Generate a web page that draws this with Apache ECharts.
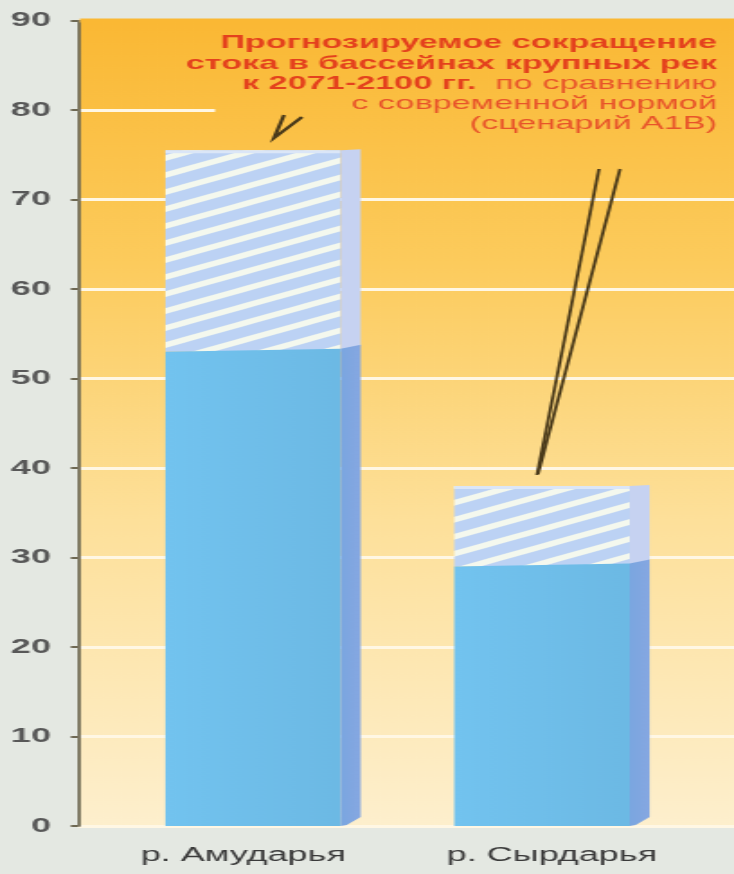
<!DOCTYPE html>
<html>
<head>
<meta charset="utf-8">
<script src="https://cdn.jsdelivr.net/npm/echarts@6/dist/echarts.min.js"></script>
<style>
html,body{margin:0;padding:0;background:#e4e8e2;overflow:hidden}
#wrap{width:734px;height:874px;overflow:hidden;position:relative}
#chart{width:408px;height:874px;transform:scaleX(1.799);transform-origin:0 0}
</style>
</head>
<body>
<div id="wrap"><div id="chart"></div></div>
<script>
// ---- data ----
const categories = ['р. Амударья', 'р. Сырдарья'];
const projectedFlow = [53, 29];      // solid part (after reduction)
const currentFlow = [75.5, 38];      // full height (current norm)
const yMin = 0, yMax = 90, yStep = 10;
const noteLines = [
  [['b', 'Прогнозируемое сокращение']],
  [['b', 'стока в бассейнах крупных рек']],
  [['b', 'к 2071-2100 гг.'], ['n', '  по сравнению']],
  [['n', 'с современной нормой']],
  [['n', '(сценарий А1В)']]
];

// ---- layout helpers (picture is horizontally stretched) ----
const S = 1.799;
const X = v => v / S;

const plotFill = {
  type: 'linear', x: 0, y: 20.5, x2: 0, y2: 826, global: true,
  colorStops: [
    {offset: 0, color: '#fab834'},
    {offset: 0.3, color: '#fccb5c'},
    {offset: 0.62, color: '#fde09a'},
    {offset: 1, color: '#fdefcd'}
  ]
};

function makeHatch() {
  const T = 17, m = 0.5, W = Math.round(T / m);
  const cv = document.createElement('canvas');
  cv.width = W; cv.height = T;
  const ctx = cv.getContext('2d');
  ctx.fillStyle = '#bcd2f4';
  ctx.fillRect(0, 0, W, T);
  ctx.strokeStyle = '#f4f8ee';
  ctx.lineWidth = 5.2;
  for (let k = -1; k <= 2; k++) {
    ctx.beginPath();
    ctx.moveTo(-2, k * T + 1);
    ctx.lineTo(W + 2, (k - 1) * T - 1);
    ctx.stroke();
  }
  return cv;
}
const hatch = {type: 'pattern', image: makeHatch(), repeat: 'repeat'};

const chart = echarts.init(document.getElementById('chart'));

const richNote = {
  b: {fontFamily: 'Liberation Sans, Arial, sans-serif', fontSize: 19, fontWeight: 'bold', fill: '#e4411d', lineHeight: 20.3},
  n: {fontFamily: 'Liberation Sans, Arial, sans-serif', fontSize: 19, fontWeight: 'normal', fill: '#e8542a', lineHeight: 20.3}
};
const noteText = noteLines.map(l => l.map(([k, t]) => '{' + k + '|' + t + '}').join('')).join('\n');

const option = {
  backgroundColor: '#e4e8e2',
  animation: false,
  grid: [
    {left: X(78), right: 0, top: 20.5, bottom: 48},
    {left: 65.9, right: 20.9, top: 20.5, bottom: 48}
  ],
  xAxis: [
    {gridIndex: 0, type: 'value', show: false, min: 0, max: 1},
    {
      gridIndex: 1, type: 'category', data: categories,
      axisLine: {show: false}, axisTick: {show: false},
      axisLabel: {
        margin: 19,
        formatter: (v, i) => (i === 0 ? '{a|' : '{c|') + v + '}',
        rich: {
          a: {fontFamily: 'Liberation Sans, Arial, sans-serif', fontSize: 20, color: '#3a3a3a', padding: [0, 22, 0, 0]},
          c: {fontFamily: 'Liberation Sans, Arial, sans-serif', fontSize: 20, color: '#3a3a3a'}
        }
      }
    }
  ],
  yAxis: [
    {
      gridIndex: 0, type: 'value', min: yMin, max: yMax, interval: yStep,
      axisLine: {show: true, lineStyle: {color: '#6d6853', width: 1.7}},
      axisTick: {show: true, inside: false, length: 4, lineStyle: {color: '#6d6853', width: 2}},
      axisLabel: {margin: 15, fontFamily: 'Liberation Sans, Arial, sans-serif', fontSize: 20, fontWeight: 'bold', color: '#585858'},
      splitLine: {show: true, lineStyle: {color: '#fff7e4', width: 3}}
    },
    {gridIndex: 1, type: 'value', min: yMin, max: yMax, show: false, splitLine: {show: false}}
  ],
  graphic: [
    {type: 'rect', z: -1, shape: {x: X(79), y: 20.5, width: 408 - X(79), height: 805.5}, style: {fill: plotFill}},
    {type: 'rect', z: 1, shape: {x: X(80), y: 18.5, width: 408 - X(80), height: 4}, style: {fill: plotFill}},
    {type: 'rect', z: 1, shape: {x: X(215), y: 22, width: 408 - X(215), height: 118}, style: {fill: plotFill}},
    {type: 'text', z: 5, x: X(717), y: 32.9, style: {text: noteText, rich: richNote, align: 'right', verticalAlign: 'top'}},
    {type: 'polyline', z: 5, shape: {points: [[X(284), 115], [X(274), 138], [X(302), 117]]}, style: {stroke: '#4a3a1a', lineWidth: 2.2, fill: null}},
    {type: 'line', z: 5, shape: {x1: X(599), y1: 169, x2: X(537), y2: 475}, style: {stroke: '#4a3a1a', lineWidth: 1.8}},
    {type: 'line', z: 5, shape: {x1: X(620), y1: 169, x2: X(538), y2: 474}, style: {stroke: '#4a3a1a', lineWidth: 1.8}}
  ],
  series: [{
    type: 'custom',
    xAxisIndex: 1, yAxisIndex: 1,
    data: categories.map((c, i) => [i, projectedFlow[i], currentFlow[i]]),
    encode: {x: 0, y: [1, 2]},
    renderItem: function (params, api) {
      const c = api.value(0);
      const base = api.coord([c, 0]);
      const pTop = api.coord([c, api.value(1)])[1];
      const cTop = api.coord([c, api.value(2)])[1];
      const band = api.size([1, 0])[0];
      const fw = band * 0.607, sw = band * 0.069;
      const x0 = base[0] - (fw + sw) / 2, x1 = x0 + fw, x2 = x1 + sw;
      const by = base[1];
      return {
        type: 'group',
        children: [
          {type: 'rect', shape: {x: x0, y: cTop, width: fw, height: pTop - cTop}, style: {fill: hatch}},
          {type: 'rect', shape: {x: x0, y: cTop, width: fw, height: 3}, style: {fill: '#dbe6f7'}},
          {type: 'polygon', shape: {points: [[x1, cTop], [x2, cTop - 1], [x2, pTop - 6], [x1, pTop]]}, style: {fill: '#c6d2f1'}},
          {type: 'polygon', shape: {points: [[x0, pTop], [x1, pTop - 3], [x1, by], [x0, by]]},
            style: {fill: {type: 'linear', x: 0, y: 0, x2: 1, y2: 0, colorStops: [{offset: 0, color: '#72c3ef'}, {offset: 1, color: '#6cb9e4'}]}}},
          {type: 'polygon', shape: {points: [[x1, pTop - 3], [x2, pTop - 7], [x2, by - 9], [x1 + sw * 0.3, by - 1], [x1, by]]},
            style: {fill: {type: 'linear', x: 0, y: 0, x2: 1, y2: 0, colorStops: [{offset: 0, color: '#7aa6e0'}, {offset: 1, color: '#86a7e1'}]}}}
        ]
      };
    }
  }]
};
chart.setOption(option);
</script>
</body>
</html>
